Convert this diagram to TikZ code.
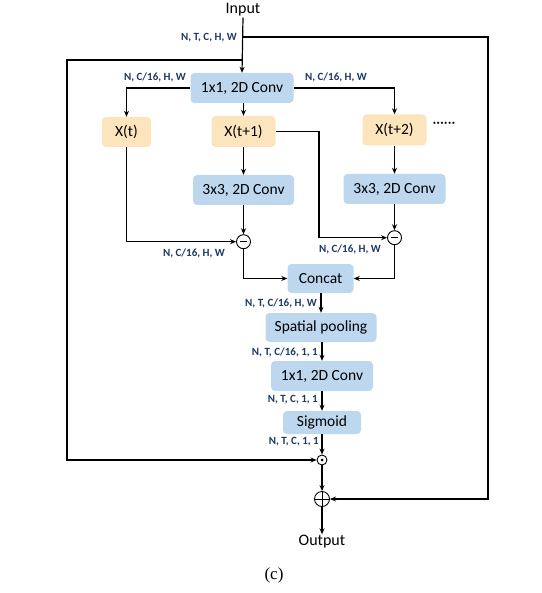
\documentclass[tikz,border=0pt]{standalone}
\usepackage{fontspec}
\setmainfont{Carlito}
\newfontfamily\capfont{Liberation Serif}
\usetikzlibrary{arrows.meta,calc}
\definecolor{boxblue}{HTML}{BDD7EE}
\definecolor{boxtan}{HTML}{FCE4BC}
\definecolor{labnavy}{HTML}{1F3864}
\tikzset{
  bluebox/.style={fill=boxblue,rounded corners=4pt,inner sep=0pt,font=\fontsize{15.5}{17}\selectfont,text=black},
  tanbox/.style={fill=boxtan,rounded corners=4pt,inner sep=0pt,font=\fontsize{15.5}{17}\selectfont,text=black},
  lab/.style={font=\bfseries\fontsize{11}{12}\selectfont,text=labnavy,inner sep=0pt},
  conn/.style={draw=black,line width=1.2pt},
  arr/.style={conn,-{Stealth[length=6pt,width=5pt]}},
  minuscirc/.style={circle,draw=black,line width=0.9pt,minimum size=14pt,inner sep=0pt,
    path picture={\draw[line width=1.6pt] ($(path picture bounding box.center)+(-3.5pt,0)$) -- ($(path picture bounding box.center)+(3.5pt,0)$);}},
  dotcirc/.style={circle,draw=black,line width=0.9pt,minimum size=10pt,inner sep=0pt,
    path picture={\fill ($(path picture bounding box.center)$) circle (1.5pt);}},
  pluscirc/.style={circle,draw=black,line width=0.9pt,minimum size=15pt,inner sep=0pt,
    path picture={\draw[line width=0.9pt] (path picture bounding box.north) -- (path picture bounding box.south) (path picture bounding box.west) -- (path picture bounding box.east);}},
  plaintext/.style={font=\fontsize{16}{18}\selectfont,inner sep=1pt}
}
\begin{document}
\begin{tikzpicture}[x=1pt,y=-1pt]
\useasboundingbox (0,0) rectangle (541,593);
% nodes
\node[plaintext] (input) at (243,10) {Input};
\node[bluebox,minimum width=103pt,minimum height=30pt] (conv1) at (242,88) {1x1, 2D Conv};
\node[tanbox,minimum width=49pt,minimum height=30pt] (xt) at (126.5,132) {X(t)};
\node[tanbox,minimum width=64pt,minimum height=31pt] (xt1) at (243.5,131.5) {X(t+1)};
\node[tanbox,minimum width=64pt,minimum height=31pt] (xt2) at (394.5,130) {X(t+2)};
\node[font=\fontsize{15}{15}\selectfont,inner sep=0pt] (dots) at (444,125) {······};
\node[bluebox,minimum width=101pt,minimum height=30pt] (conv3a) at (243.5,190) {3x3, 2D Conv};
\node[bluebox,minimum width=102pt,minimum height=30pt] (conv3b) at (394.5,189) {3x3, 2D Conv};
\node[minuscirc] (m1) at (243.5,241.7) {};
\node[minuscirc] (m2) at (394.5,237.7) {};
\node[bluebox,minimum width=66pt,minimum height=29pt] (concat) at (320.5,278.5) {Concat};
\node[bluebox,minimum width=111pt,minimum height=29pt] (sp) at (321,327.5) {Spatial pooling};
\node[bluebox,minimum width=102pt,minimum height=30pt] (conv1b) at (322,376) {1x1, 2D Conv};
\node[bluebox,minimum width=78pt,minimum height=23pt] (sig) at (322,422.5) {Sigmoid};
\node[dotcirc] (dot) at (322,460) {};
\node[pluscirc] (plus) at (322,499) {};
\node[plaintext] (output) at (322,542) {Output};
\node[font=\capfont\fontsize{17}{19}\selectfont,inner sep=0pt] (cap) at (274,575) {(c)};
% helper coordinates
\coordinate (b1) at (242,37);
\coordinate (b2) at (242,60);
\coordinate (rtop) at (488,37);
\coordinate (ltop) at (67,60);
\coordinate (xt1r) at (319,131.5);
% connectors
\draw[arr] (input.south) -- (conv1.north);
\draw[arr] (b1) -- (rtop) -- (rtop |- plus) -- (plus.east);
\draw[arr] (b2) -- (ltop) -- (ltop |- dot) -- (dot.west);
\draw[arr] (conv1.west) -| (xt.north);
\draw[arr] (conv1.east) -| (xt2.north);
\draw[arr] (conv1.south -| xt1) -- (xt1.north);
\draw[arr] (xt1.south) -- (conv3a.north);
\draw[arr] (conv3a.south) -- (m1.north);
\draw[arr] (xt.south) |- (m1.west);
\draw[arr] (m1.south) |- (concat.west);
\draw[arr] (xt1.east) -- (xt1r) |- (m2.west);
\draw[arr] (xt2.south) -- (conv3b.north);
\draw[arr] (conv3b.south) -- (m2.north);
\draw[arr] (m2.south) |- (concat.east);
\draw[arr] (concat.south -| sp) -- (sp.north);
\draw[arr] (sp.south -| conv1b) -- (conv1b.north);
\draw[arr] (conv1b.south) -- (sig.north);
\draw[arr] (sig.south) -- (dot.north);
\draw[arr] (dot.south) -- (plus.north);
\draw[arr] (plus.south) -- (output.north);
% labels
\node[lab,anchor=east] (l0) at (237,38) {N, T, C, H, W};
\node[lab] (l1) at (155,77) {N, C/16, H, W};
\node[lab] (l2) at (336,77) {N, C/16, H, W};
\node[lab] (l3) at (194,253) {N, C/16, H, W};
\node[lab] (l4) at (350,249) {N, C/16, H, W};
\node[lab,anchor=east] (l5) at (317,303) {N, T, C/16, H, W};
\node[lab,anchor=east] (l6) at (318,352) {N, T, C/16, 1, 1};
\node[lab,anchor=east] (l7) at (318,400) {N, T, C, 1, 1};
\node[lab,anchor=east] (l8) at (319,442) {N, T, C, 1, 1};
\end{tikzpicture}
\end{document}
